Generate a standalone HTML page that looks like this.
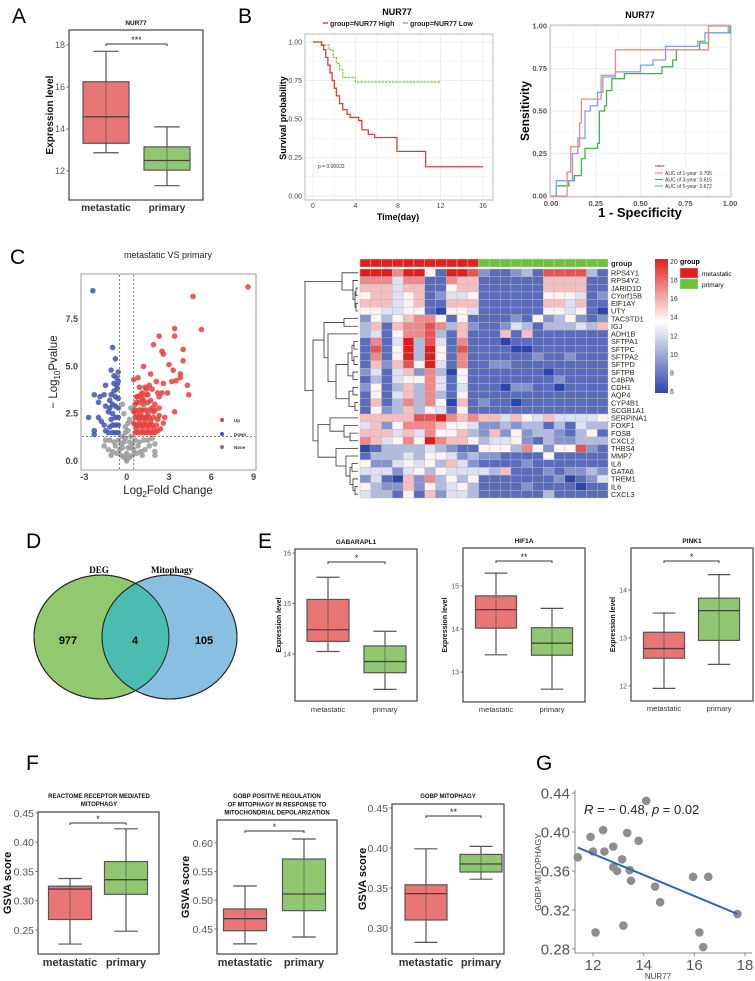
<!DOCTYPE html>
<html><head><meta charset="utf-8">
<style>
html,body{margin:0;padding:0;background:#fff;}
svg{display:block;font-family:"Liberation Sans",Arial,sans-serif;}
</style></head>
<body>
<svg id="fig" width="755" height="981" viewBox="0 0 755 981" xmlns="http://www.w3.org/2000/svg">
<defs>
<linearGradient id="hmgrad" x1="0" y1="0" x2="0" y2="1">
<stop offset="0" stop-color="#e0201e"/><stop offset="0.47" stop-color="#ffffff"/><stop offset="1" stop-color="#2d46aa"/>
</linearGradient>
</defs>
<text x="12" y="23" font-size="21">A</text>
<text x="238" y="23" font-size="21">B</text>
<text x="10" y="264" font-size="21">C</text>
<text x="26" y="548" font-size="21">D</text>
<text x="258" y="548" font-size="21">E</text>
<text x="26" y="770" font-size="21">F</text>
<text x="536" y="770" font-size="21">G</text>

<!-- Venn D -->
<g>
<ellipse cx="101.5" cy="637" rx="67.5" ry="62" fill="#92c96f" stroke="#222" stroke-width="1"/>
<ellipse cx="169.5" cy="637" rx="67.5" ry="62" fill="#89bfe0" stroke="#222" stroke-width="1"/>
<clipPath id="vclip"><ellipse cx="101.5" cy="637" rx="67.5" ry="62"/></clipPath>
<ellipse cx="169.5" cy="637" rx="67.5" ry="62" fill="#4bbcb0" clip-path="url(#vclip)"/>
<ellipse cx="101.5" cy="637" rx="67.5" ry="62" fill="none" stroke="#222" stroke-width="1"/>
<ellipse cx="169.5" cy="637" rx="67.5" ry="62" fill="none" stroke="#222" stroke-width="1"/>
<text x="99" y="573" font-family="Liberation Serif,serif" font-weight="bold" font-size="9" text-anchor="middle">DEG</text>
<text x="172" y="573" font-family="Liberation Serif,serif" font-weight="bold" font-size="9" text-anchor="middle">Mitophagy</text>
<text x="68" y="644" font-weight="bold" font-size="11" text-anchor="middle">977</text>
<text x="135" y="644" font-weight="bold" font-size="11" text-anchor="middle">4</text>
<text x="204" y="644" font-weight="bold" font-size="11" text-anchor="middle">105</text>
</g>
</svg>

<script>
// ---------- DATA ----------
const nur77Met=[12.87,13.32,14.58,16.25,17.7];
const nur77Pri=[11.3,12.04,12.5,13.15,14.1];
const gabMet=[14.05,14.25,14.48,15.08,15.52];
const gabPri=[13.3,13.63,13.85,14.16,14.45];
const hifMet=[13.4,14.02,14.45,14.77,15.3];
const hifPri=[12.6,13.39,13.67,14.03,14.48];
const pinkMet=[11.95,12.58,12.78,13.12,13.52];
const pinkPri=[12.45,12.95,13.57,13.83,14.32];
const reacMet=[0.226,0.268,0.32,0.325,0.338];
const reacPri=[0.248,0.311,0.336,0.367,0.423];
const gobpPosMet=[0.424,0.447,0.468,0.485,0.525];
const gobpPosPri=[0.436,0.482,0.511,0.572,0.607];
const gobpMitoMet=[0.282,0.31,0.343,0.354,0.399];
const gobpMitoPri=[0.361,0.37,0.38,0.392,0.402];
const kmHighT=[0,0.8,1.0,1.2,1.4,1.6,1.8,2.0,2.2,2.5,2.8,3.2,3.5,4.3,4.6,5.2,5.8,7.9,10.6,16];
const kmHighS=[1,0.98,0.95,0.9,0.85,0.8,0.75,0.7,0.65,0.6,0.56,0.53,0.51,0.49,0.43,0.4,0.38,0.29,0.19,0.19];
const kmLowT=[0,0.8,1.5,1.9,2.2,2.5,2.8,4.0,12];
const kmLowS=[1,0.98,0.95,0.9,0.86,0.82,0.77,0.74,0.74];
const kmTicksX=[0,4,8,12,16];
const kmTicksY=[0,0.25,0.5,0.75,1];
const roc1X=[0,0.09,0.09,0.11,0.11,0.16,0.16,0.17,0.17,0.28,0.28,0.36,0.36,0.88,0.88,1];
const roc1Y=[0,0,0.14,0.14,0.29,0.29,0.43,0.43,0.57,0.57,0.71,0.71,0.86,0.86,1,1];
const roc3X=[0,0.03,0.03,0.1,0.1,0.13,0.13,0.17,0.17,0.19,0.19,0.26,0.26,0.27,0.27,0.3,0.3,0.31,0.31,0.34,0.34,0.41,0.41,0.62,0.62,0.68,0.68,0.7,0.7,0.83,0.83,0.88,0.88,1,1];
const roc3Y=[0,0,0.06,0.06,0.09,0.09,0.12,0.12,0.22,0.22,0.28,0.28,0.31,0.31,0.5,0.5,0.53,0.53,0.62,0.62,0.69,0.69,0.72,0.72,0.76,0.76,0.8,0.8,0.86,0.86,0.9,0.9,0.96,0.96,1];
const roc5X=[0,0.03,0.03,0.12,0.12,0.15,0.15,0.19,0.19,0.22,0.22,0.26,0.26,0.29,0.29,0.36,0.36,0.5,0.5,0.57,0.57,0.64,0.64,0.82,0.82,0.86,0.86,0.99,0.99];
const roc5Y=[0,0,0.09,0.09,0.25,0.25,0.34,0.34,0.5,0.5,0.53,0.53,0.61,0.61,0.7,0.7,0.73,0.73,0.77,0.77,0.8,0.8,0.88,0.88,0.91,0.91,0.96,0.96,1];
const rocTicks=[0,0.25,0.5,0.75,1];
const rocTickLabels=['0.00','0.25','0.50','0.75','1.00'];
const volUp="8.6,9.2 4.7,8.7 5.3,6.95 3.4,7.0 3.4,6.6 2.3,6.6 1.9,6.15 2.5,5.8 2.6,5.65 4.0,5.9 4.0,5.3 1.2,5.0 3.0,5.1 3.3,4.8 3.8,4.6 1.7,4.6 0.5,4.3 0.8,4.4 3.5,4.25 3.2,4.2 4.3,4.0 4.4,3.5 3.8,4.4 2.1,4.2 2.6,4.1 0.9,3.9 1.4,3.8 2.5,3.6 2.9,3.6 2.3,3.4 3.4,2.6 2.7,2.3 1.8,3.8 1.5,3.5 1.1,3.6 0.7,3.4 0.6,1.5 0.8,1.5 1.0,1.5 1.2,1.5 1.4,1.5 1.6,1.5 1.8,1.5 2.0,1.5 0.6,1.9 0.8,1.9 1.0,1.9 1.2,1.9 1.4,1.9 1.6,1.9 1.8,1.9 2.1,1.9 0.6,2.3 0.8,2.3 1.0,2.3 1.2,2.3 1.4,2.3 1.6,2.3 1.9,2.3 2.2,2.2 0.6,2.7 0.9,2.7 1.1,2.7 1.3,2.7 1.6,2.7 1.9,2.6 0.7,3.1 0.9,3.1 1.2,3.0 1.5,3.1 2.0,3.0 0.8,3.4 1.1,3.3 1.4,3.5 2.3,2.8 2.6,2.0 2.4,1.7 1.7,3.2 0.7,1.7 1.1,1.7 1.5,1.7 0.9,2.1 1.3,2.1 1.7,2.1 0.7,2.5 1.0,2.5 1.5,2.5 1.8,2.8 1.2,3.2 0.6,3.0 1.0,3.5 1.3,3.9 1.6,4.0 2.2,3.6 2.0,2.7 2.3,2.4 1.9,1.7 2.2,1.6 0.5,2.0 0.5,2.6";
const volDown="-2.4,9.0 -1.0,6.0 -0.8,5.4 -1.1,4.8 -0.6,4.7 -0.9,4.5 -1.5,4.0 -0.7,4.0 -2.3,3.5 -1.6,3.5 -1.9,3.4 -2.0,3.1 -1.5,2.9 -1.3,2.6 -2.7,2.3 -2.0,2.3 -1.8,2.1 -2.3,1.6 -2.3,1.4 -1.5,1.6 -1.2,1.8 -1.1,2.2 -0.6,1.5 -0.8,1.5 -1.0,1.5 -0.6,1.9 -0.8,1.9 -1.0,1.9 -0.6,2.3 -0.8,2.3 -1.0,2.5 -0.6,2.8 -0.8,2.9 -1.0,3.0 -0.6,3.3 -0.8,3.4 -0.7,3.8 -0.9,3.7 -0.6,4.2 -1.2,3.2 -1.2,2.8 -0.7,4.4 -1.3,1.5 -1.6,1.9 -0.9,4.1 -1.1,3.5";
const volNone="0,0.1 0.2,0.2 -0.2,0.2 0.4,0.3 -0.4,0.3 0.7,0.4 -0.7,0.4 1.0,0.5 -1.0,0.5 1.3,0.6 -1.3,0.6 1.6,0.8 -1.6,0.8 2.0,0.9 -0.3,0.7 0.3,0.7 -0.2,1.0 0.2,1.0 -0.3,1.3 0.3,1.3 0.1,1.6 -0.1,1.8 0.2,2.2 -0.2,2.5 0.3,2.8 -0.3,3.0 0.6,1.1 -0.6,1.1 0.9,1.0 -0.9,1.0 1.2,1.1 -1.2,1.1 1.5,1.1 -1.5,1.1 1.8,1.2 2.0,0.5 0.5,0.6 -0.5,0.6 0,0.4 0.1,0.7 -0.1,1.2 0,0 -0.4,0.9 0.4,0.9 0.8,0.8 -0.8,0.8 1.1,0.3 -1.1,0.3 2.0,0.3 0.1,2.0 -0.1,1.5";
const volTicksX=[-3,0,3,6,9];
const volTicksY=[0,2.5,5,7.5];
const volTickLabelsY=['0.0','2.5','5.0','7.5'];
const hmGenes=['RPS4Y1','RPS4Y2','JARID1D','CYorf15B','EIF1AY','UTY','TACSTD1','IGJ','ADH1B','SFTPA1','SFTPC','SFTPA2','SFTPD','SFTPB','C4BPA','CDH1','AQP4','CYP4B1','SCGB1A1','SERPINA1','FOXF1','FOSB','CXCL2','THBS4','MMP7','IL8','GATA6','TREM1','IL6','CXCL3'];
const hmGroups=['m','m','m','m','m','m','m','m','m','m','m','p','p','p','p','p','p','p','p','p','p','p','p'];
const hmRows=["99979951998211231888831","77747711766111111666611","66646611566111111666611","56645612445111111555412","66645611666111111664611","55445510554111111554510","25356775151111215235212","36167787362112431333436","34157783161116161111111","17149384171110111111111","18159395181111001111111","17159395171111112112111","16268594171122111111111","24146273051111111011111","13145574151111111121111","25136374141110221101111","15146373151111111111111","16137375061211011111111","15236354151111111111111","66666889767664654644445","46257776554223233131433","66646475563262523321351","76457597665344521322333","01333343211555375255821","13334355423221111511111","52245453642111121111111","44424535444436111212232","24106273535111111120124","53226253453111121111011","43315162443111111311111"];
const hmLegendTicks=[20,18,16,14,12,10,8,6];
const gX=[11.4,11.9,12.0,12.1,12.4,12.45,12.8,12.8,12.95,13.15,13.2,13.35,13.45,13.5,13.8,14.1,14.45,14.65,15.95,16.2,16.35,16.55,17.7];
const gY=[0.374,0.395,0.38,0.297,0.402,0.38,0.385,0.364,0.36,0.372,0.304,0.399,0.361,0.35,0.391,0.432,0.344,0.328,0.354,0.297,0.282,0.354,0.316];
const gFitX=[11.4,17.7];
const gFitY=[0.384,0.316];
const gTicksX=[12,14,16,18];
const gTicksY=[0.28,0.32,0.36,0.40,0.44];

// ---------- HELPERS ----------
const NS='http://www.w3.org/2000/svg';
const svg=document.getElementById('fig');
function el(tag,attrs,parent){const e=document.createElementNS(NS,tag);for(const k in attrs)e.setAttribute(k,attrs[k]);(parent||svg).appendChild(e);return e;}
function txt(s,x,y,attrs,parent){const e=el('text',Object.assign({x:x,y:y},attrs),parent);e.textContent=s;return e;}
function lin(d0,d1,r0,r1){return v=>r0+(v-d0)*(r1-r0)/(d1-d0);}
function parsePts(s){return s.trim().split(/\s+/).map(p=>p.split(',').map(Number));}

// ---------- BOXPLOT PANELS ----------
const RED='#e96e6e',GREEN='#8cc46a';
function boxPanel(c){
  const g=el('g',{});
  
  
  const ys=lin(c.v0,c.v1,c.y0,c.y1);
  const fr=el('rect',{x:c.fx,y:c.fy,width:c.fw,height:c.fh,fill:'none',stroke:'#444','stroke-width':1.2},g);
  
  
  c.ticks.forEach((t,i)=>{
    const y=ys(t);
    el('line',{x1:c.fx-2.5,x2:c.fx,y1:y,y2:y,stroke:'#666'},g);
    const tl=txt(c.tickLabels[i],c.fx-4,y+c.tfs*0.36,{'font-size':c.tfs,fill:'#555','text-anchor':'end'},g);
    
    
  });
  const data=[c.met,c.pri],cols=[RED,GREEN],names=['metastatic','primary'];
  data.forEach((d,i)=>{
    const cx=c.cx[i],hw=c.hw;
    const w=el('line',{x1:cx,x2:cx,y1:ys(d[0]),y2:ys(d[4]),stroke:'#555','stroke-width':1.2},g);
    
    
    el('line',{x1:cx-hw*0.55,x2:cx+hw*0.55,y1:ys(d[0]),y2:ys(d[0]),stroke:'#555','stroke-width':1.2},g);
    el('line',{x1:cx-hw*0.55,x2:cx+hw*0.55,y1:ys(d[4]),y2:ys(d[4]),stroke:'#555','stroke-width':1.2},g);
    const b=el('rect',{x:cx-hw,y:ys(d[3]),width:2*hw,height:ys(d[1])-ys(d[3]),fill:cols[i],stroke:'#555','stroke-width':1.2,'fill-opacity':0.95},g);
    
    
    el('line',{x1:cx,x2:cx,y1:ys(d[1]),y2:ys(d[3]),stroke:'#555','stroke-width':1,opacity:0.6},g);
    const m=el('line',{x1:cx-hw,x2:cx+hw,y1:ys(d[2]),y2:ys(d[2]),stroke:'#444','stroke-width':1.3},g);
    
    
    const xl=txt(names[i],cx,c.xly,{'font-size':c.xfs,'font-weight':c.xbold?'bold':'normal',fill:'#333','text-anchor':'middle'},g);
    
    
  });
  c.title.forEach((t,i)=>{
    const tt=txt(t,c.tx,c.ty+i*c.tlh,{'font-size':c.titfs,'font-weight':'bold','text-anchor':'middle',fill:'#111'},g);
    
    
  });
  const br=el('path',{d:`M${c.cx[0]},${c.by+2}V${c.by}H${c.cx[1]}V${c.by+2}`,fill:'none',stroke:'#333','stroke-width':1},g);
  
  
  const st=txt(c.sig,(c.cx[0]+c.cx[1])/2,c.by-1,{'font-size':9,'text-anchor':'middle',fill:'#222'},g);
  
  
  const yt=txt(c.ytitle,0,0,{'font-size':c.ytfs,'font-weight':'bold','text-anchor':'middle',fill:'#111',transform:`translate(${c.ytx},${(c.fy+c.fy+c.fh)/2}) rotate(-90)`},g);
  
  
}
boxPanel({name:'boxplot-nur77',fx:69,fy:30,fw:134,fh:170,v0:18,y0:45,v1:12,y1:171,ticks:[12,14,16,18],tickLabels:['12','14','16','18'],tfs:9,met:nur77Met,pri:nur77Pri,cx:[106,167],hw:23,xly:211,xfs:10,xbold:true,title:['NUR77'],tx:136,ty:25,tlh:0,titfs:6.5,by:44,sig:'***',ytitle:'Expression level',ytx:53,ytfs:10});
boxPanel({name:'boxplot-gabarapl1',fx:295,fy:549,fw:122,fh:152,v0:16,y0:553,v1:14,y1:654,ticks:[14,15,16],tickLabels:['14','15','16'],tfs:7,met:gabMet,pri:gabPri,cx:[328,385],hw:21,xly:712,xfs:7.5,xbold:false,title:['GABARAPL1'],tx:356,ty:544,tlh:0,titfs:6.5,by:562,sig:'*',ytitle:'Expression level',ytx:281,ytfs:7});
boxPanel({name:'boxplot-hif1a',fx:463,fy:548,fw:122,fh:154,v0:15,y0:586,v1:13,y1:672,ticks:[13,14,15],tickLabels:['13','14','15'],tfs:7,met:hifMet,pri:hifPri,cx:[496,552],hw:20.5,xly:712,xfs:7.5,xbold:false,title:['HIF1A'],tx:524,ty:543,tlh:0,titfs:6.5,by:561,sig:'**',ytitle:'Expression level',ytx:447,ytfs:7});
boxPanel({name:'boxplot-pink1',fx:631,fy:548,fw:122,fh:153,v0:14,y0:590,v1:12,y1:686,ticks:[12,13,14],tickLabels:['12','13','14'],tfs:7,met:pinkMet,pri:pinkPri,cx:[664,719],hw:20.5,xly:711,xfs:7.5,xbold:false,title:['PINK1'],tx:692,ty:543,tlh:0,titfs:6.5,by:561,sig:'*',ytitle:'Expression level',ytx:615,ytfs:7});
boxPanel({name:'boxplot-reactome-mitophagy',fx:38,fy:812,fw:121,fh:142,v0:0.45,y0:813,v1:0.25,y1:930,ticks:[0.25,0.30,0.35,0.40,0.45],tickLabels:['0.25','0.30','0.35','0.40','0.45'],tfs:10.5,met:reacMet,pri:reacPri,cx:[70,126],hw:21.5,xly:966,xfs:11,xbold:true,title:['REACTOME RECEPTOR MEDIATED','MITOPHAGY'],tx:99,ty:798,tlh:8,titfs:6,by:823,sig:'*',ytitle:'GSVA score',ytx:11,ytfs:11});
boxPanel({name:'boxplot-gobp-positive-regulation',fx:217,fy:820,fw:120,fh:134,v0:0.60,y0:843,v1:0.45,y1:929,ticks:[0.45,0.50,0.55,0.60],tickLabels:['0.45','0.50','0.55','0.60'],tfs:10.5,met:gobpPosMet,pri:gobpPosPri,cx:[245,304],hw:21.5,xly:966,xfs:11,xbold:true,title:['GOBP POSITIVE REGULATION','OF MITOPHAGY IN RESPONSE TO','MITOCHONDRIAL DEPOLARIZATION'],tx:277,ty:798,tlh:8.3,titfs:6,by:831,sig:'*',ytitle:'GSVA score',ytx:189,ytfs:11});
boxPanel({name:'boxplot-gobp-mitophagy',fx:392,fy:804,fw:112,fh:150,v0:0.45,y0:808,v1:0.30,y1:928,ticks:[0.30,0.35,0.40,0.45],tickLabels:['0.30','0.35','0.40','0.45'],tfs:10.5,met:gobpMitoMet,pri:gobpMitoPri,cx:[426,481],hw:21,xly:966,xfs:11,xbold:true,title:['GOBP MITOPHAGY'],tx:448,ty:798,tlh:0,titfs:6,by:816,sig:'**',ytitle:'GSVA score',ytx:366,ytfs:11});

// ---------- KM ----------
(function(){
  const g=el('g',{});
  
  
  const xs=lin(0,16,313,483), ys=lin(0,1,196,42);
  el('rect',{x:305,y:34,width:188,height:166,fill:'#fff',stroke:'#bbb','stroke-width':1},g);
  [0,2,4,6,8,10,12,14,16].forEach(t=>el('line',{x1:xs(t),x2:xs(t),y1:35,y2:199,stroke:'#eee','stroke-width':t%4?0.5:0.9},g));
  [0,0.125,0.25,0.375,0.5,0.625,0.75,0.875,1].forEach(t=>el('line',{x1:306,x2:492,y1:ys(t),y2:ys(t),stroke:'#eee','stroke-width':(t*4)%1?0.5:0.9},g));
  kmTicksX.forEach(t=>{const l=txt(String(t),xs(t),208,{'font-size':7,fill:'#444','text-anchor':'middle'},g);
    
    });
  kmTicksY.forEach(t=>{const l=txt(t.toFixed(2),302,ys(t)+2.5,{'font-size':7,fill:'#444','text-anchor':'end'},g);
    
    });
  function step(T,S){let d=`M${xs(T[0])},${ys(S[0])}`;for(let i=1;i<T.length;i++)d+=`H${xs(T[i])}V${ys(S[i])}`;return d;}
  const lo=el('path',{d:step(kmLowT,kmLowS),fill:'none',stroke:'#7ec850','stroke-width':1.3,'stroke-dasharray':'2.5,1'},g);
  
  
  const hi=el('path',{d:step(kmHighT,kmHighS),fill:'none',stroke:'#e23b3b','stroke-width':1.3},g);
  
  
  const t1=txt('NUR77',397,15,{'font-size':9,'font-weight':'bold','text-anchor':'middle'},g);
  
  
  el('line',{x1:323,x2:328,y1:23,y2:23,stroke:'#e23b3b','stroke-width':1.5},g);
  const l1=txt('group=NUR77 High',330,26,{'font-size':7,'font-weight':'bold',fill:'#222'},g);
  
  
  el('line',{x1:403,x2:408,y1:23,y2:23,stroke:'#7ec850','stroke-width':1.5},g);
  const l2=txt('group=NUR77 Low',410,26,{'font-size':7,'font-weight':'bold',fill:'#222'},g);
  
  
  const p=txt('p = 0.00033',318,168,{'font-size':5,fill:'#333'},g);
  
  
  const xt=txt('Time(day)',398,220,{'font-size':9,'font-weight':'bold','text-anchor':'middle'},g);
  
  
  const yt=txt('Survival probability',0,0,{'font-size':9,'font-weight':'bold','text-anchor':'middle',transform:'translate(286,118) rotate(-90)'},g);
  
  
})();

// ---------- ROC ----------
(function(){
  const g=el('g',{});
  
  
  const xs=lin(0,1,551,730), ys=lin(0,1,196,26);
  el('rect',{x:550,y:25,width:181,height:172,fill:'#fff',stroke:'#bbb','stroke-width':1},g);
  [0,0.125,0.25,0.375,0.5,0.625,0.75,0.875,1].forEach(t=>{
    el('line',{x1:xs(t),x2:xs(t),y1:26,y2:196,stroke:'#eee','stroke-width':(t*4)%1?0.5:0.9},g);
    el('line',{x1:551,x2:730,y1:ys(t),y2:ys(t),stroke:'#eee','stroke-width':(t*4)%1?0.5:0.9},g);});
  rocTicks.forEach((t,i)=>{
    const a=txt(rocTickLabels[i],xs(t),206,{'font-size':7.5,'font-weight':'bold',fill:'#555','text-anchor':'middle'},g);
    
    
    const b=txt(rocTickLabels[i],547,ys(t)+2.5,{'font-size':7.5,'font-weight':'bold',fill:'#555','text-anchor':'end'},g);
    
    });
  function path(X,Y){return X.map((x,i)=>(i?'L':'M')+xs(x)+','+ys(Y[i])).join('');}
  const series=[[roc3X,roc3Y,'#3cb44b','roc-3-year'],[roc5X,roc5Y,'#7fa1e6','roc-5-year'],[roc1X,roc1Y,'#f08a84','roc-1-year']];
  series.forEach(s=>{const p=el('path',{d:path(s[0],s[1]),fill:'none',stroke:s[2],'stroke-width':1.3},g);
    
    });
  const t=txt('NUR77',640,18,{'font-size':9,'font-weight':'bold','text-anchor':'middle'},g);
  
  
  const xt=txt('1 - Specificity',640,217,{'font-size':13,'font-weight':'bold','text-anchor':'middle'},g);
  
  
  const yt=txt('Sensitivity',0,0,{'font-size':12,'font-weight':'bold','text-anchor':'middle',transform:'translate(529,111) rotate(-90)'},g);
  
  
  const v=txt('value',655,167,{'font-size':4,fill:'#333'},g);
  
  
  [['AUC of 1-year: 0.705','#f08a84'],['AUC of 3-year: 0.615','#3cb44b'],['AUC of 5-year: 0.672','#7fa1e6']].forEach((e,i)=>{
    el('line',{x1:655,x2:663,y1:173+i*6.5,y2:173+i*6.5,stroke:e[1],'stroke-width':1.2},g);
    const l=txt(e[0],665,175+i*6.5,{'font-size':5,fill:'#333'},g);
    
    });
})();

// ---------- VOLCANO ----------
(function(){
  const g=el('g',{});
  
  
  const xs=lin(0,3,126.7,169), ys=lin(0,2.5,461,413.7);
  el('rect',{x:81,y:274,width:175,height:196,fill:'#fff',stroke:'#999','stroke-width':1},g);
  [['#999',volNone,'point-none'],['#3f55b0',volDown,'point-down'],['#e5403d',volUp,'point-up']].forEach(s=>{
    parsePts(s[1]).forEach(p=>{const c=el('circle',{cx:xs(p[0]),cy:ys(p[1]),r:2.8,fill:s[0],'fill-opacity':0.85},g);
      
      });});
  [-0.5,0.5].forEach(v=>el('line',{x1:xs(v),x2:xs(v),y1:275,y2:469,stroke:'#555','stroke-width':0.8,'stroke-dasharray':'2,2'},g));
  el('line',{x1:82,x2:255,y1:ys(1.3),y2:ys(1.3),stroke:'#555','stroke-width':0.8,'stroke-dasharray':'2,2'},g);
  volTicksX.forEach(t=>{const l=txt(String(t),xs(t),480,{'font-size':9,'font-weight':'bold',fill:'#444','text-anchor':'middle'},g);
    
    });
  volTicksY.forEach((t,i)=>{const l=txt(volTickLabelsY[i],78,ys(t)+3,{'font-size':9,'font-weight':'bold',fill:'#444','text-anchor':'end'},g);
    
    });
  const t=txt('metastatic VS primary',168,258,{'font-size':9,'text-anchor':'middle',fill:'#222'},g);
  
  
  const xt=el('text',{x:168,y:494,'font-size':11.5,'text-anchor':'middle',fill:'#222'},g);
  xt.innerHTML='Log<tspan font-size="8" dy="3">2</tspan><tspan dy="-3">Fold Change</tspan>';
  
  
  const yt=el('text',{'font-size':11.5,'text-anchor':'middle',fill:'#222',transform:'translate(57,372) rotate(-90)'},g);
  yt.innerHTML='− Log<tspan font-size="8" dy="3">10</tspan><tspan dy="-3">Pvalue</tspan>';
  
  
  [['Up','#e5403d',420],['Down','#3f55b0',434],['None','#777',447]].forEach(e=>{
    el('circle',{cx:222,cy:e[2],r:2,fill:e[1]},g);
    const l=txt(e[0],234,e[2]+2,{'font-size':4.5,'font-weight':'bold',fill:'#333'},g);
    
    });
})();

// ---------- HEATMAP ----------
(function(){
  const g=el('g',{});
  
  
  const x0=360,x1=608,y0=269,y1=498;
  const nC=hmGroups.length,nR=hmGenes.length,cw=(x1-x0)/nC,rh=(y1-y0)/nR;
  const blue=[45,70,170],white=[255,255,255],red=[225,30,30];
  function col(v){const t=(v-6)/14;let a,b,u;if(t<0.53){a=blue;b=white;u=t/0.53;}else{a=white;b=red;u=(t-0.53)/0.47;}
    u=Math.max(0,Math.min(1,u));return 'rgb('+a.map((c,i)=>Math.round(c+(b[i]-c)*u)).join(',')+')';}
  hmGroups.forEach((gr,j)=>{const r=el('rect',{x:x0+j*cw,y:259,width:cw,height:8,fill:gr==='m'?'#e0201e':'#6cc33a',stroke:'#ccc','stroke-width':0.5},g);
    
    });
  hmRows.forEach((row,i)=>{
    for(let j=0;j<nC;j++){const d=+(row.charAt(j)||'1');const v=6+d*14/9;
      const r=el('rect',{x:x0+j*cw,y:y0+i*rh,width:cw,height:rh,fill:col(v),stroke:'#bbb','stroke-width':0.4},g);
      
      }
    const l=txt(hmGenes[i],611,y0+(i+0.5)*rh+2.7,{'font-size':7.3,fill:'#222'},g);
    
    
  });
  const gl=txt('group',611,266,{'font-size':7.5,'font-weight':'bold',fill:'#222'},g);
  
  
  const tree=[53,[16,0,[5,1,[3,[2,2,3],[2,4,5]]]],[45,[34,[14,6,7],[30,8,[22,[10,[6,[4,9,10],[4,11,12]],[5,13,14]],[9,[5,15,16],[3,17,18]]]]],[40,[28,19,[14,20,[8,21,22]]],[22,23,[12,24,[8,[6,25,26],[5,27,[3,28,29]]]]]]]];
  let dp='';
  function draw(n){if(typeof n==='number')return {y:y0+(n+0.5)*rh,x:358};
    const a=draw(n[1]),b=draw(n[2]),x=358-n[0];
    dp+=`M${a.x},${a.y}H${x}V${b.y}H${b.x}`;return {y:(a.y+b.y)/2,x:x};}
  draw(tree);
  const dd=el('path',{d:dp,fill:'none',stroke:'#333','stroke-width':0.8},g);
  
  
  const lb=el('rect',{x:655,y:259,width:13,height:134,fill:'url(#hmgrad)'},g);
  
  
  const ls=lin(20,6,261,391);
  hmLegendTicks.forEach(t=>{const l=txt(String(t),670,ls(t)+3,{'font-size':7,fill:'#333'},g);
    
    });
  const lt=txt('group',680,264,{'font-size':7,'font-weight':'bold'},g);
  
  
  el('rect',{x:680,y:268,width:18,height:10,fill:'#e0201e',stroke:'#ccc','stroke-width':0.5},g);
  el('rect',{x:680,y:279,width:18,height:10,fill:'#6cc33a',stroke:'#ccc','stroke-width':0.5},g);
  const a=txt('metastatic',702,276,{'font-size':6.5},g);
  
  
  const b=txt('primary',702,287,{'font-size':6.5},g);
  
  
})();

// ---------- SCATTER G ----------
(function(){
  const g=el('g',{});
  
  
  const xs=lin(12,18,593,745), ys=lin(0.28,0.44,949,793);
  el('path',{d:'M575,790V953H752',fill:'none',stroke:'#888','stroke-width':1},g);
  gTicksX.forEach(t=>{el('line',{x1:xs(t),x2:xs(t),y1:953,y2:956,stroke:'#888'},g);
    const l=txt(String(t),xs(t),970,{'font-size':15,fill:'#555','text-anchor':'middle'},g);
    
    });
  gTicksY.forEach(t=>{el('line',{x1:572,x2:575,y1:ys(t),y2:ys(t),stroke:'#888'},g);
    const l=txt(t.toFixed(2),570,ys(t)+5.5,{'font-size':15,fill:'#555','text-anchor':'end'},g);
    
    });
  gX.forEach((x,i)=>{const c=el('circle',{cx:xs(x),cy:ys(gY[i]),r:4.3,fill:'#8e8e8e'},g);
    
    });
  const fl=el('line',{x1:xs(gFitX[0]),y1:ys(gFitY[0]),x2:xs(gFitX[1]),y2:ys(gFitY[1]),stroke:'#3464b8','stroke-width':2},g);
  
  
  const r=el('text',{x:584,y:814,'font-size':13,fill:'#222'},g);
  r.innerHTML='<tspan font-style="italic">R</tspan> = − 0.48, <tspan font-style="italic">p</tspan> = 0.02';
  
  
  const xt=txt('NUR77',658,979,{'font-size':8,fill:'#444','text-anchor':'middle'},g);
  
  
  const yt=txt('GOBP MITOPHAGY',0,0,{'font-size':8.5,fill:'#444','text-anchor':'middle',transform:'translate(541,872) rotate(-90)'},g);
  
  
})();
</script>
</body></html>
